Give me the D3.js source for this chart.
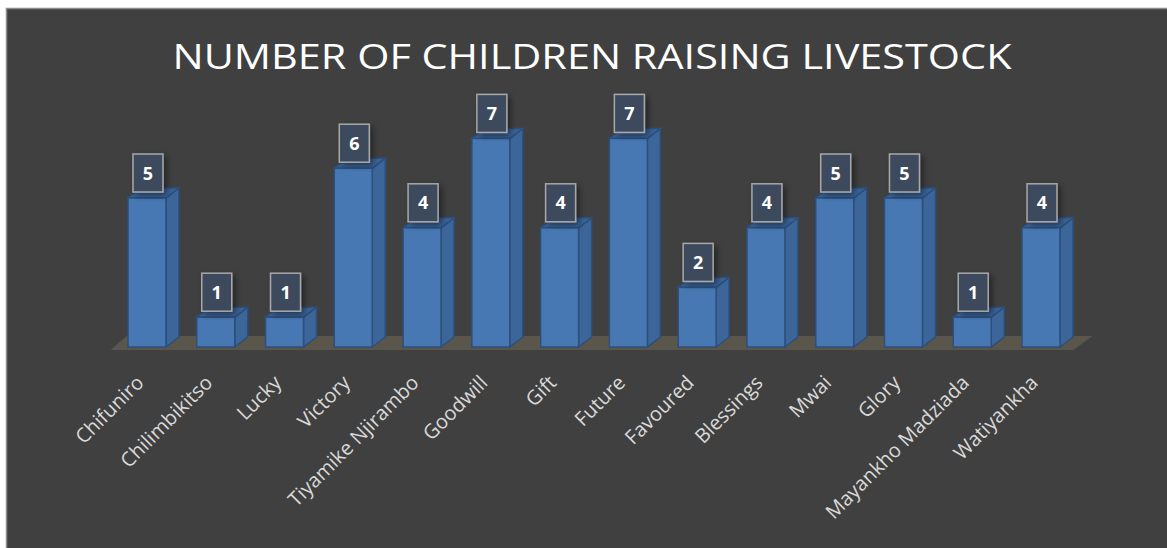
<!DOCTYPE html>
<html><head><meta charset="utf-8">
<script src="https://cdn.jsdelivr.net/npm/d3@7/dist/d3.min.js"></script>
<style>html,body{margin:0;padding:0;background:#fff;}svg{display:block;}</style>
</head><body><svg id="c" width="1167" height="548"></svg>
<script>
const title = "NUMBER OF CHILDREN RAISING LIVESTOCK";
const categories = ["Chifuniro","Chilimbikitso","Lucky","Victory","Tiyamike Njirambo","Goodwill","Gift","Future","Favoured","Blessings","Mwai","Glory","Mayankho Madziada","Watiyankha"];
const values = [5,1,1,6,4,7,4,7,2,4,5,5,1,4];

const svg = d3.select("#c");
const W = 1167, H = 548;
svg.append("rect").attr("x",6.5).attr("y",8.5).attr("width",W).attr("height",H)
  .attr("fill","#404040").attr("stroke","#8c8c8c").attr("stroke-width",1.5);

const defs = svg.append("defs");
const f = defs.append("filter").attr("id","sh").attr("x","-50%").attr("y","-50%").attr("width","200%").attr("height","200%");
f.append("feGaussianBlur").attr("in","SourceAlpha").attr("stdDeviation",3);
f.append("feOffset").attr("dx",3).attr("dy",3).attr("result","b");
f.append("feComponentTransfer").append("feFuncA").attr("type","linear").attr("slope",0.45);
const m = f.append("feMerge"); m.append("feMergeNode"); m.append("feMergeNode").attr("in","SourceGraphic");

const base = 347, dx = 13, dy = -10;
const x = d3.scaleBand().domain(categories).range([112.6, 1075.4]).paddingInner(0.448).paddingOuter(0.224);
const y = d3.scaleLinear().domain([0, 8]).range([base, base - 8*29.8]);

// floor
svg.append("path")
  .attr("d", `M${x.range()[0]-2},${base+3} L${x.range()[1]-2},${base+3} L${x.range()[1]+17},${base-11} L${x.range()[0]+14},${base-11} Z`)
  .attr("fill","#5a564c");

// title
svg.append("text").attr("x", 592).attr("y", 69).attr("text-anchor","middle")
  .attr("font-family","'Open Sans', sans-serif").attr("font-weight",400).attr("font-size",35).attr("fill","#ffffff")
  .attr("textLength", 839).attr("lengthAdjust","spacingAndGlyphs")
  .text(title);

const data = categories.map((c,i)=>({c, v: values[i]}));
const bw = x.bandwidth();
const g = svg.append("g");
const bars = g.selectAll("g.bar").data(data).join("g").attr("class","bar");
bars.append("path").attr("fill","#3c6699").attr("stroke","#2c4f7c").attr("stroke-width",1.5)
  .attr("d", d=>{const x0=x(d.c)+bw, t=y(d.v); return `M${x0},${t} L${x0+dx},${t+dy} L${x0+dx},${base+dy} L${x0},${base} Z`;});
bars.append("path").attr("fill","#3a6397").attr("stroke","#2c4f7c").attr("stroke-width",1.5)
  .attr("d", d=>{const x0=x(d.c), t=y(d.v); return `M${x0},${t} L${x0+dx},${t+dy} L${x0+bw+dx},${t+dy} L${x0+bw},${t} Z`;});
bars.append("rect").attr("x",d=>x(d.c)).attr("y",d=>y(d.v)).attr("width",bw).attr("height",d=>base-y(d.v))
  .attr("fill","#4878b3").attr("stroke","#2c4f7c").attr("stroke-width",1.5);

// value labels
const lb = g.selectAll("g.lab").data(data).join("g").attr("class","lab")
  .attr("transform", d=>`translate(${x(d.c)+bw/2+1},${y(d.v)-6})`);
lb.append("rect").attr("x",-15).attr("y",-38).attr("width",30).attr("height",38)
  .attr("fill","#3d4a5c").attr("stroke","#a8a8a8").attr("stroke-width",1.5).attr("filter","url(#sh)");
lb.append("text").attr("x",0).attr("y",-12.5).attr("text-anchor","middle")
  .attr("font-family","'Open Sans', sans-serif").attr("font-weight",700).attr("font-size",18).attr("fill","#ffffff")
  .text(d=>d.v);

// category axis
const ax = svg.append("g").attr("transform",`translate(0,${base+20})`)
  .call(d3.axisBottom(x).tickSize(0).tickPadding(0));
ax.select(".domain").remove();
ax.selectAll("text").attr("font-family","'Open Sans', sans-serif").attr("font-size",20).attr("fill","#d9d9d9")
  .attr("text-anchor","end").attr("dy","0").attr("transform","translate(-2,17) rotate(-45)");
</script></body></html>
